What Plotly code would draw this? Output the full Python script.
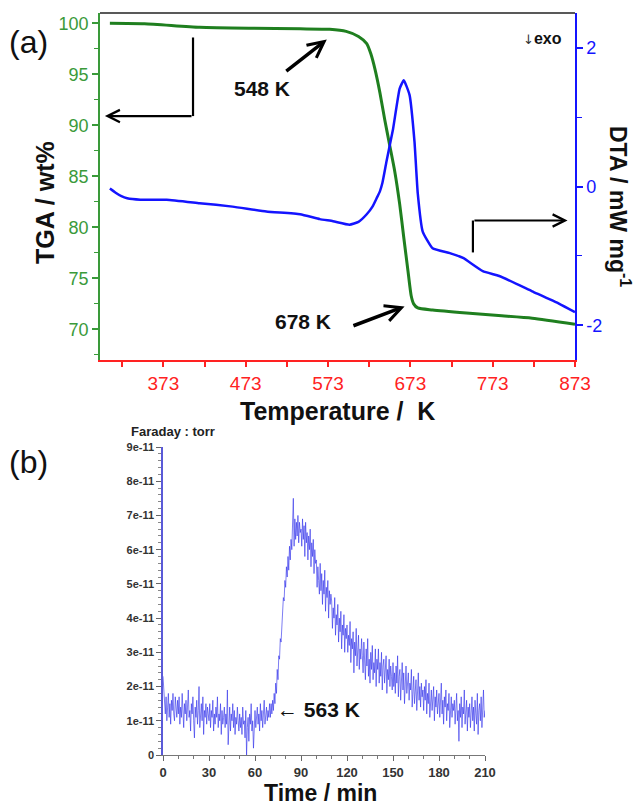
import plotly.graph_objects as go

W, H = 635, 805

# ---------------- (a) TGA / DTA data ----------------
tga_T = [308, 350, 417, 480, 539, 575, 595, 610, 620, 625, 630, 636, 642, 648,
         654, 660, 665, 670, 674, 677, 682, 700, 741, 780, 821, 873]
tga_wt = [100.0, 99.95, 99.6, 99.5, 99.45, 99.4, 99.2, 98.7, 98.0, 97.0, 95.5,
          93.2, 90.5, 88.0, 85.5, 82.3, 79.0, 75.8, 73.3, 72.5, 72.1, 71.9, 71.6,
          71.35, 71.1, 70.5]

dta_T = [308, 315, 322, 329, 345, 377, 417, 457, 498, 539, 563, 579, 599, 610,
         620, 627, 632, 636, 639, 644, 652, 660, 665, 672, 678, 682, 688, 700,
         721, 737, 761, 781, 821, 854, 873]
dta_v = [-0.03, -0.09, -0.14, -0.17, -0.19, -0.19, -0.24, -0.29, -0.36, -0.40,
         -0.47, -0.50, -0.55, -0.51, -0.40, -0.29, -0.17, -0.07, 0.05, 0.36,
         0.83, 1.41, 1.53, 1.32, 0.65, -0.10, -0.65, -0.89, -0.96, -1.03, -1.22,
         -1.29, -1.51, -1.69, -1.81]

temp_ticks = [373, 473, 573, 673, 773, 873]
tga_ticks = [70, 75, 80, 85, 90, 95, 100]
dta_ticks = [-2, 0, 2]
dta_ticktext = ["-2", "0", "2"]

# ---------------- (b) mass spectrometry (Faraday, units of 1e-12 torr) ----------------
ms_step_min = 0.5
ms_vals = [
    23, 19, 15, 12, 17, 10, 14, 18, 11, 15, 9, 16, 13, 18, 12, 10, 17, 14, 11, 16,
    12, 17, 9, 14, 11, 18, 13, 8, 15, 12, 16, 10, 14, 19, 11, 13, 7, 15, 12, 17,
    10, 5, 14, 11, 16, 9, 13, 20, 8, 12, 15, 10, 17, 6, 13, 11, 15, 9, 14, 12,
    10, 15, 8, 13, 11, 16, 7, 12, 9, 14, 11, 17, 8, 12, 10, 15, 6, 13, 9, 11,
    14, 8, 12, 9, 19, 3, 11, 14, 7, 12, 10, 15, 8, 13, 6, 11, 9, 14, 10, 7,
    12, 8, 11, 6, 14, 9, 10, 5, 13, 0, 8, 11, 4, 12, 9, 15, 7, 10, 2, 11,
    13, 8, 11, 14, 9, 12, 7, 15, 10, 13, 8, 11, 16, 9, 12, 14, 10, 13, 11, 15,
    11, 15, 12, 16, 13, 18, 15, 21, 18, 25, 22, 29, 28, 34, 33, 39, 40, 46, 45, 51,
    49, 55, 52, 58, 54, 61, 57, 63, 60, 66, 75, 61, 69, 63, 68, 64, 70, 62, 68, 65,
    66, 61, 69, 63, 67, 58, 68, 62, 65, 57, 64, 60, 66, 55, 62, 58, 63, 53, 60, 56,
    57, 49, 55, 51, 47, 56, 48, 53, 44, 51, 47, 54, 42, 49, 46, 51, 40, 48, 44, 47,
    45, 37, 43, 40, 46, 35, 41, 38, 44, 33, 40, 36, 42, 31, 38, 35, 41, 30, 37, 34,
    38, 30, 35, 32, 39, 27, 34, 31, 36, 24, 33, 29, 37, 26, 32, 35, 25, 31, 28, 34,
    29, 24, 33, 27, 22, 31, 26, 34, 23, 28, 21, 30, 25, 32, 22, 27, 24, 31, 20, 28,
    25, 31, 21, 27, 23, 30, 19, 26, 28, 21, 24, 29, 18, 25, 22, 28, 20, 26, 23, 19,
    27, 20, 24, 18, 26, 21, 29, 17, 23, 25, 16, 22, 27, 19, 24, 15, 21, 26, 18, 22,
    24, 16, 21, 19, 25, 14, 20, 23, 15, 19, 22, 13, 18, 24, 16, 20, 14, 21, 17, 19,
    13, 20, 16, 22, 12, 18, 15, 21, 11, 17, 19, 13, 16, 20, 10, 17, 14, 19, 12, 16,
    18, 11, 15, 21, 12, 16, 9, 17, 14, 19, 10, 15, 13, 18, 8, 14, 17, 11, 15, 13,
    16, 9, 14, 18, 10, 13, 4, 15, 11, 17, 8, 14, 12, 19, 9, 13, 16, 7, 14, 11,
    15, 8, 13, 17, 10, 14, 7, 16, 12, 9, 18, 6, 13, 15, 10, 17, 8, 12, 19, 11,
    13,
]
ms_time = [i * ms_step_min for i in range(len(ms_vals))]
ms_torr = [v * 1e-12 for v in ms_vals]

time_ticks = [0, 30, 60, 90, 120, 150, 180, 210]
ms_ticks = [0, 1e-11, 2e-11, 3e-11, 4e-11, 5e-11, 6e-11, 7e-11, 8e-11, 9e-11]
ms_ticktext = ["0", "1e-11", "2e-11", "3e-11", "4e-11", "5e-11", "6e-11",
               "7e-11", "8e-11", "9e-11"]

# ---------------- styling ----------------
GREEN_LINE = "#1f7f1f"
GREEN_TXT = "#3a9a3a"
BLUE = "#1414ff"
RED = "#ff2222"
FONT = "Liberation Sans, Arial, sans-serif"


def px(x):
    return x / W


def py(y):
    return 1 - y / H


fig = go.Figure()

fig.add_trace(go.Scatter(x=tga_T, y=tga_wt, mode="lines", xaxis="x", yaxis="y",
                         line=dict(color=GREEN_LINE, width=3, shape="spline", smoothing=0.6),
                         showlegend=False))
fig.add_trace(go.Scatter(x=dta_T, y=dta_v, mode="lines", xaxis="x", yaxis="y2",
                         line=dict(color=BLUE, width=2.5, shape="spline", smoothing=0.4),
                         showlegend=False))
fig.add_trace(go.Scatter(x=ms_time, y=ms_torr, mode="lines", xaxis="x2", yaxis="y3",
                         line=dict(color="rgba(50,50,235,0.8)", width=0.8),
                         showlegend=False))

fig.update_layout(
    width=W, height=H,
    margin=dict(l=0, r=0, t=0, b=0),
    paper_bgcolor="white", plot_bgcolor="white",
    font=dict(family=FONT),
    xaxis=dict(domain=[px(100), px(575)], anchor="y", range=[296, 873],
               tickmode="array", tickvals=temp_ticks,
               ticks="outside", ticklen=5, tickwidth=1.5, tickcolor=RED,
               showline=True, linecolor=RED, linewidth=1.5,
               tickfont=dict(color=RED, size=19),
               minor=dict(tickmode="linear", tick0=323, dtick=50, ticks="outside",
                          ticklen=5, tickcolor=RED, tickwidth=1.5),
               showgrid=False, zeroline=False, automargin=False),
    yaxis=dict(domain=[py(360), py(13)], anchor="x", range=[67, 101],
               tickmode="array", tickvals=tga_ticks,
               ticks="outside", ticklen=6, tickwidth=1.5, tickcolor=GREEN_TXT,
               showline=True, linecolor=GREEN_TXT, linewidth=1.5,
               tickfont=dict(color=GREEN_TXT, size=18),
               minor=dict(tickmode="linear", tick0=67.5, dtick=5, ticks="outside",
                          ticklen=4, tickcolor=GREEN_TXT, tickwidth=1.2),
               showgrid=False, zeroline=False, automargin=False),
    yaxis2=dict(overlaying="y", side="right", anchor="x", range=[-2.5, 2.5],
                tickmode="array", tickvals=dta_ticks, ticktext=dta_ticktext,
                ticks="outside", ticklen=6, tickwidth=1.5, tickcolor=BLUE,
                showline=True, linecolor=BLUE, linewidth=1.5,
                tickfont=dict(color=BLUE, size=18),
                minor=dict(tickmode="array", tickvals=[-1, 1], ticks="outside",
                           ticklen=5, tickcolor=BLUE, tickwidth=1.2),
                showgrid=False, zeroline=False, automargin=False),
    xaxis2=dict(domain=[px(163), px(485)], anchor="y3", range=[0, 210],
                tickmode="array", tickvals=time_ticks,
                ticks="outside", ticklen=5, tickwidth=1, tickcolor="#666",
                showline=True, linecolor="#777", linewidth=1.2,
                tickfont=dict(color="#333", size=13, weight="bold"),
                minor=dict(tickmode="linear", tick0=0, dtick=10, ticks="outside",
                           ticklen=3, tickcolor="#777", tickwidth=1),
                showgrid=False, zeroline=False, automargin=False),
    yaxis3=dict(domain=[py(755), py(447)], anchor="x2", range=[0, 9e-11],
                tickmode="array", tickvals=ms_ticks, ticktext=ms_ticktext,
                ticks="outside", ticklen=5, tickwidth=1, tickcolor="#666",
                showline=True, linecolor="#5a5ad8", linewidth=1.5,
                tickfont=dict(color="#333", size=11, weight="bold"),
                minor=dict(tickmode="linear", tick0=0, dtick=2e-12, ticks="outside",
                           ticklen=3, tickcolor="#888", tickwidth=1),
                showgrid=False, zeroline=False, automargin=False),
)

# top frame line of panel (a)
fig.add_shape(type="line", xref="paper", yref="paper",
              x0=px(100), x1=px(575), y0=py(13), y1=py(13),
              line=dict(color="#222", width=1.5))
# left elbow (TGA axis) vertical part
fig.add_shape(type="line", xref="x", yref="y", x0=409, x1=409, y0=98.6, y1=90.9,
              line=dict(color="black", width=2.2))
# right elbow (DTA axis) vertical part
fig.add_shape(type="line", xref="x", yref="y2", x0=749, x1=749, y0=-0.95, y1=-0.49,
              line=dict(color="black", width=2.2))

ann = []
ann.append(dict(x=302, y=90.9, ax=409, ay=90.9, xref="x", yref="y", axref="x", ayref="y",
                showarrow=True, arrowhead=5, arrowsize=1.1, arrowwidth=2.2,
                arrowcolor="black", text=""))
ann.append(dict(x=864, y=-0.49, ax=749, ay=-0.49, xref="x", yref="y2", axref="x",
                ayref="y2", showarrow=True, arrowhead=5, arrowsize=1.1, arrowwidth=2.2,
                arrowcolor="black", text=""))
ann.append(dict(x=571.5, y=98.4, ax=520.5, ay=95.2, xref="x", yref="y", axref="x",
                ayref="y", showarrow=True, arrowhead=5, arrowsize=0.9, arrowwidth=3.5,
                arrowcolor="black", text=""))
ann.append(dict(x=666, y=72.25, ax=602, ay=70.3, xref="x", yref="y", axref="x",
                ayref="y", showarrow=True, arrowhead=5, arrowsize=0.9, arrowwidth=3.5,
                arrowcolor="black", text=""))

texts = [
    ("(a)", 28, 42, 32, 0, "normal", "#111"),
    ("548 K", 262, 89, 21, 0, "bold", "#111"),
    ("678 K", 303, 321, 21, 0, "bold", "#111"),
    ("<span style='font-family:DejaVu Sans;font-size:13px;font-weight:normal;color:#333'>↓</span>exo",
     542, 38, 16, 0, "bold", "#111"),
    ("TGA / wt%", 45, 203, 25, -90, "bold", "#111"),
    ("DTA / mW mg<sup>-1</sup>", 620, 206, 23, 90, "bold", "#111"),
    ("Temperature /  K", 337, 411, 25, 0, "bold", "#111"),
    ("(b)", 28, 462, 32, 0, "normal", "#111"),
    ("Faraday : torr", 173, 432, 13, 0, "bold", "#222"),
    ("Time / min", 320, 793, 23, 0, "bold", "#111"),
    ("<span style='font-weight:normal'>←</span> 563 K", 318, 709, 21, 0, "bold", "#111"),
]
for t, x, y, s, ang, wgt, col in texts:
    ann.append(dict(text=t, x=px(x), y=py(y), xref="paper", yref="paper",
                    xanchor="center", yanchor="middle", showarrow=False,
                    textangle=ang,
                    font=dict(size=s, color=col, family=FONT, weight=wgt)))

fig.update_layout(annotations=ann)

fig.write_html("out.html", config={"displayModeBar": False},
               post_script="document.body.style.margin='0px';document.body.style.overflow='hidden';")
